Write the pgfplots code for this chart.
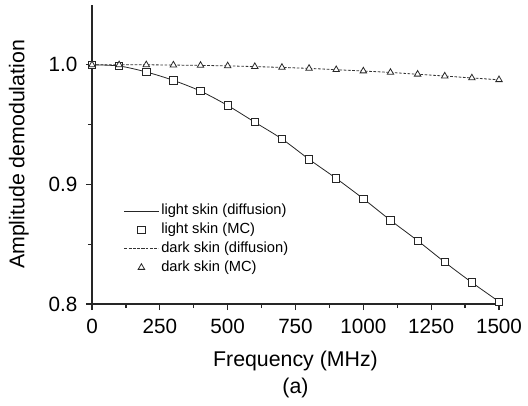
\documentclass[border=0pt]{standalone}
\usepackage{fontspec}
\setmainfont{Liberation Sans}
\usepackage{pgfplots}
\pgfplotsset{compat=1.18}
\begin{document}
\begin{tikzpicture}
\begin{axis}[
  at={(0,0)}, anchor=south west,
  scale only axis, width=305.25pt, height=224.25pt,
  xmin=0, xmax=1500, ymin=0.8, ymax=1.05,
  axis x line*=bottom, axis y line*=left,
  axis line style={-, line width=0.9pt, black!85},
  xtick={0,250,...,1500}, ytick={0.8,0.9,1.0},
  minor x tick num=1, minor y tick num=1,
  tick align=outside,
  major tick length=4.5pt, minor tick length=3pt,
  tick style={line width=0.9pt, black!85},
  xticklabel shift=3.5pt, yticklabel shift=3pt,
  /pgf/number format/assume math mode=true,
  yticklabel style={/pgf/number format/.cd, fixed, fixed zerofill, precision=1},
  xticklabel style={/pgf/number format/.cd, set thousands separator={}},
  ticklabel style={font=\fontsize{15.5}{18}\selectfont},
  label style={font=\fontsize{16}{19}\selectfont},
  xlabel={Frequency (MHz)},
  ylabel={Amplitude demodulation},
  xlabel style={at={(axis description cs:0.5,-0.19)}, anchor=center},
  ylabel style={at={(axis description cs:-0.18,0.5)}, anchor=center},
  legend image code/.code={\draw[mark repeat=2,mark phase=2,#1] plot coordinates {(0cm,0cm) (0.45cm,0cm) (0.9cm,0cm)};},
  legend style={draw=none, fill=none, at={(axis description cs:0.068,0.352)}, anchor=north west,
    font=\fontsize{11}{13}\selectfont, row sep=0pt,
    nodes={inner sep=1.8pt, text height=8pt, text depth=2.5pt}},
  legend cell align=left,
]
\addplot[black!85, line width=0.6pt, smooth] coordinates {
(0,1.000)(100,0.999)(200,0.994)(300,0.987)(400,0.978)(500,0.966)(600,0.952)(700,0.938)(800,0.921)(900,0.905)(1000,0.888)(1100,0.870)(1200,0.853)(1300,0.835)(1400,0.818)(1500,0.802)};
\addlegendentry{light skin (diffusion)}
\addplot[only marks, mark=square*, mark size=2.75pt, mark options={fill=white, draw=black!85, line width=0.6pt}] coordinates {
(0,1.000)(100,0.999)(200,0.994)(300,0.987)(400,0.978)(500,0.966)(600,0.952)(700,0.938)(800,0.921)(900,0.905)(1000,0.888)(1100,0.870)(1200,0.853)(1300,0.835)(1400,0.818)(1500,0.802)};
\addlegendentry{light skin (MC)}
\addplot[black!80, line width=0.6pt, dash pattern=on 2pt off 1.2pt, smooth] coordinates {
(0,1.000)(100,1.000)(200,1.000)(300,0.9998)(400,0.9995)(500,0.9991)(600,0.9985)(700,0.9978)(800,0.9970)(900,0.9959)(1000,0.9948)(1100,0.9936)(1200,0.9921)(1300,0.9906)(1400,0.9890)(1500,0.9875)};
\addlegendentry{dark skin (diffusion)}
\addplot[only marks, mark=triangle*, mark size=2.8pt, mark options={fill=white, draw=black!85, line width=0.6pt}] coordinates {
(0,1.000)(100,1.000)(200,1.000)(300,0.9998)(400,0.9995)(500,0.9991)(600,0.9985)(700,0.9978)(800,0.9970)(900,0.9959)(1000,0.9948)(1100,0.9936)(1200,0.9921)(1300,0.9906)(1400,0.9890)(1500,0.9875)};
\addlegendentry{dark skin (MC)}
\end{axis}
\node[font=\fontsize{16}{19}\selectfont] at (152.6pt,-63pt) {(a)};
\path (-69pt,-75.75pt) rectangle (327pt,228pt);
\end{tikzpicture}
\end{document}
